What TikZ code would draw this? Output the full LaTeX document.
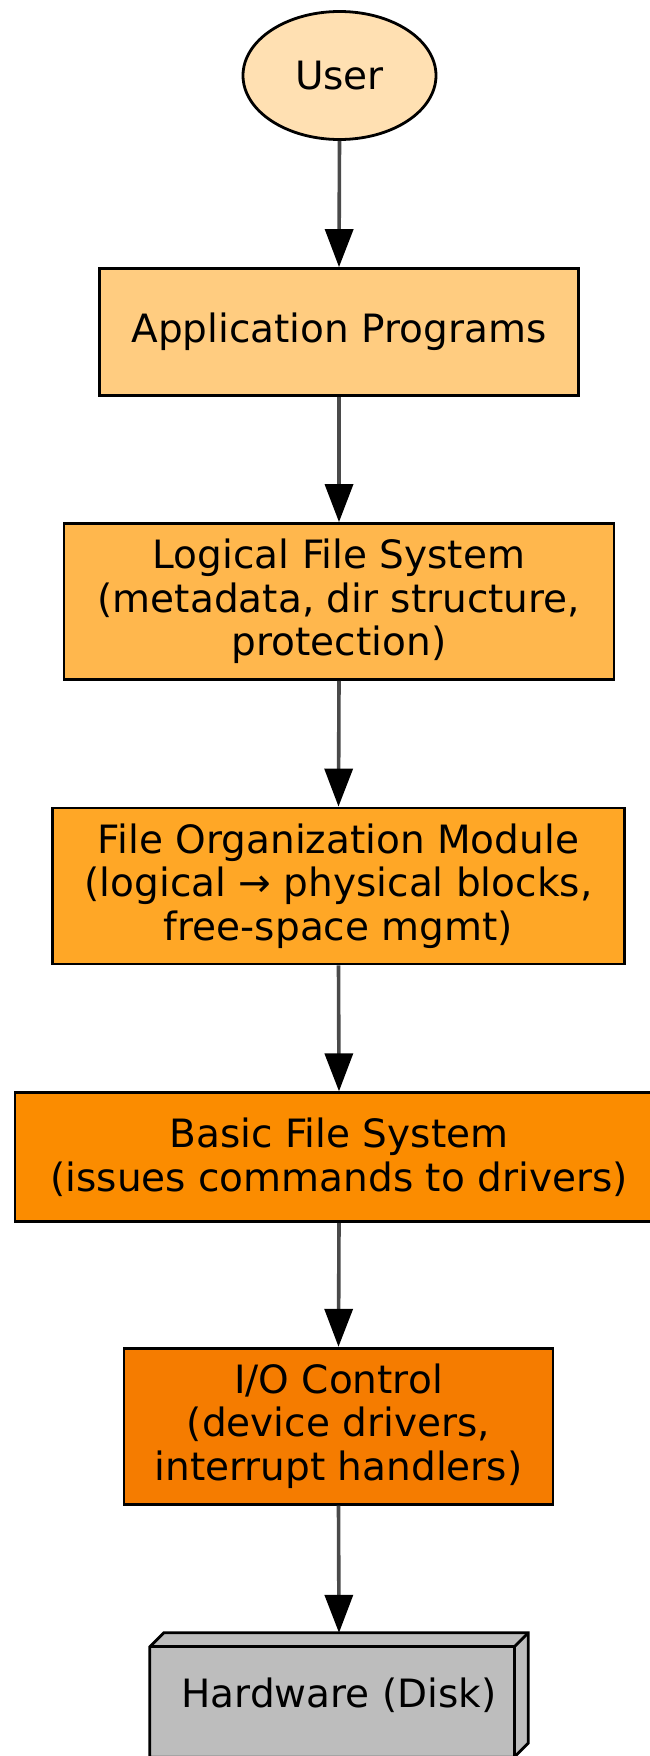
\documentclass[tikz,border=0pt]{standalone}
\usepackage{fontspec}
\setmainfont{DejaVu Sans}
\usetikzlibrary{shapes.geometric,arrows.meta,calc,backgrounds}

% Layer fills, light to dark
\definecolor{userfill}{HTML}{FFE0B2}
\definecolor{appfill}{HTML}{FFCC80}
\definecolor{logfill}{HTML}{FFB74D}
\definecolor{orgfill}{HTML}{FFA726}
\definecolor{basicfill}{HTML}{FB8C00}
\definecolor{iofill}{HTML}{F57C00}
\definecolor{hwfill}{HTML}{BDBDBD}
\definecolor{edgegray}{HTML}{4A4A4A}

\tikzset{
  labelfont/.style={font=\fontsize{39}{43.5}\selectfont},
  layerbox/.style={rectangle, draw=black, line width=2.8pt, inner sep=0pt,
                   align=center, labelfont},
  flow/.style={draw=edgegray, line width=3.6pt,
               -{Triangle[length=38pt,width=28pt,color=black,fill=black]}},
}

\begin{document}
\begin{tikzpicture}[x=1pt,y=-1pt]
\useasboundingbox (0,0) rectangle (649,1756);

% Stack of file-system layers
\node[ellipse, draw=black, line width=2.8pt, fill=userfill, inner sep=0pt,
      minimum width=193pt, minimum height=128pt, labelfont]
  (user) at (339.5,75.5) {User};

\node[layerbox, fill=appfill, minimum width=479pt, minimum height=127pt]
  (app) at (339,332) {Application Programs};

\node[layerbox, fill=logfill, minimum width=550pt, minimum height=156pt]
  (logical) at (339,601.5) {Logical File System\\(metadata, dir structure,\\protection)};

\node[layerbox, fill=orgfill, minimum width=572pt, minimum height=156pt]
  (fileorg) at (338.5,886) {File Organization Module\\(logical → physical blocks,\\free-space mgmt)};

\node[layerbox, fill=basicfill, minimum width=648pt, minimum height=129pt]
  (basic) at (339,1157.2) {Basic File System\\(issues commands to drivers)};

\node[layerbox, fill=iofill, minimum width=429pt, minimum height=156pt]
  (io) at (338.5,1426.2) {I/O Control\\(device drivers,\\interrupt handlers)};

% Disk drawn as a 3-D box
\node[rectangle, inner sep=0pt, minimum width=378pt, minimum height=124pt, labelfont]
  (hw) at (339,1695) {Hardware (Disk)};
\begin{scope}[on background layer]
  \filldraw[fill=hwfill, draw=black, line width=2.8pt, line join=miter]
    ($(hw.north west)+(0,14)$) -- ($(hw.north west)+(14,0)$) -- (hw.north east)
    -- ($(hw.south east)+(0,-14)$) -- ($(hw.south east)+(-14,0)$)
    -- (hw.south west) -- cycle;
  \draw[line width=2.8pt, line join=miter]
    ($(hw.north west)+(0,14)$) -- ($(hw.north east)+(-14,14)$)
    -- ($(hw.south east)+(-14,0)$);
  \draw[line width=2.8pt] ($(hw.north east)+(-14,14)$) -- (hw.north east);
\end{scope}

% Downward flow between layers
\draw[flow] (user.south) -- (app.north);
\draw[flow] (app.south) -- (logical.north);
\draw[flow] (logical.south) -- (fileorg.north);
\draw[flow] (fileorg.south) -- (basic.north);
\draw[flow] (basic.south) -- (io.north);
\draw[flow] (io.south) -- (hw.north);
\end{tikzpicture}
\end{document}
